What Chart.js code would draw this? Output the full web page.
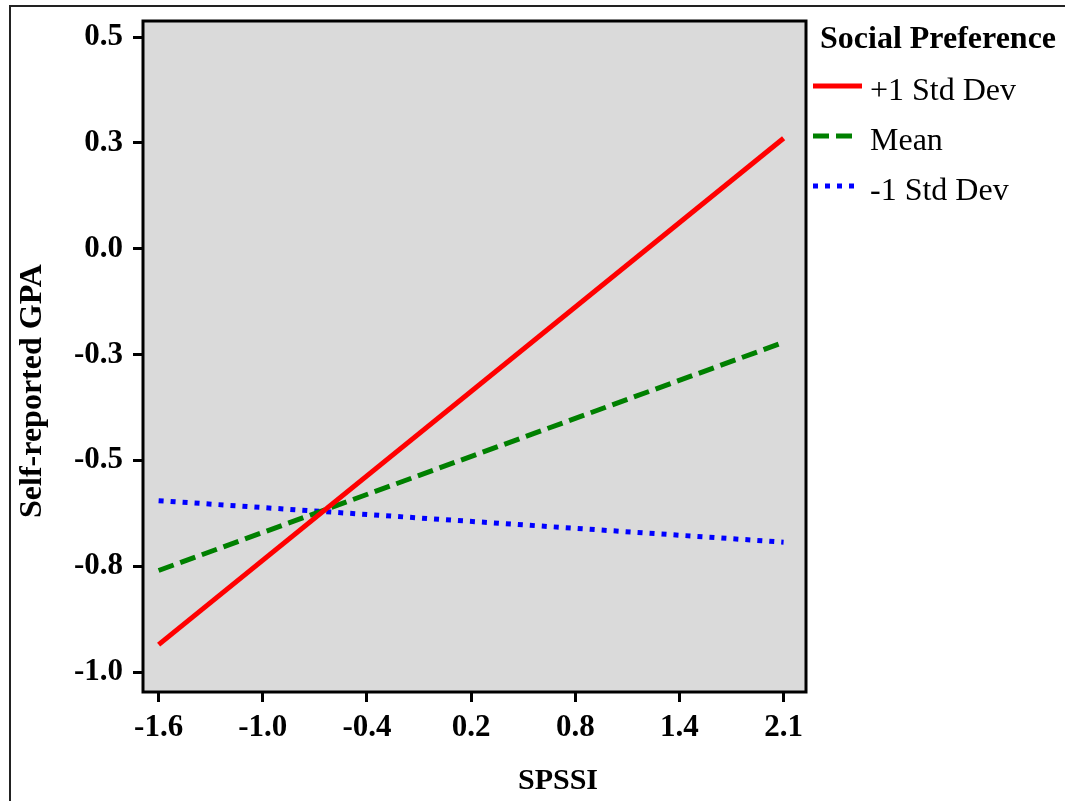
<!DOCTYPE html>
<html>
<head>
<meta charset="utf-8">
<script src="https://cdn.jsdelivr.net/npm/chart.js@4/dist/chart.umd.min.js"></script>
<style>
  body { margin:0; background:#fff; }
  #wrap { position:relative; width:1065px; height:801px; overflow:hidden; }
</style>
</head>
<body>
<div id="wrap"><canvas id="myChart" width="1065" height="801"></canvas></div>
<script>
// values
var spssi=[-1.6, 2.0];
var plusOneSD=[-0.935, 0.261];
var meanSP=[-0.760, -0.221];
var minusOneSD=[-0.595, -0.693];
var seriesNames=['+1 Std Dev','Mean','-1 Std Dev'];

var xTickValues=[-1.6,-1.0,-0.4,0.2,0.8,1.4,2.0];
var xTickLabels=['-1.6','-1.0','-0.4','0.2','0.8','1.4','2.1'];
var yTickValues=[-1.0,-0.75,-0.5,-0.25,0.0,0.25,0.5];
var yTickLabels=['-1.0','-0.8','-0.5','-0.3','0.0','0.3','0.5'];

var serif="'Liberation Serif','Times New Roman',serif";

function points(ys) {
    var out=[];
    for(let i=0;i<spssi.length;i++) out.push({x:spssi[i],y:ys[i]});
    return out;
}

// frame, gray plot background, plot box, axis titles and legend
var decor={
    id:'decor',
    beforeDraw:function(chart) {
        var c=chart.ctx, a=chart.chartArea;
        c.save();
        c.fillStyle='#dadada';
        c.fillRect(a.left,a.top,a.right-a.left,a.bottom-a.top);
        c.strokeStyle='#222';
        c.lineWidth=2;
        c.beginPath();
        c.moveTo(10,801); c.lineTo(10,6); c.lineTo(1065,6);
        c.stroke();
        c.restore();
    },
    afterDraw:function(chart) {
        var c=chart.ctx, a=chart.chartArea;
        c.save();
        c.strokeStyle='#000';
        c.lineWidth=3;
        c.strokeRect(a.left,a.top,a.right-a.left,a.bottom-a.top);

        c.fillStyle='#000';
        c.textAlign='center';
        c.textBaseline='middle';
        c.font='bold 30px '+serif;
        c.fillText('SPSSI',558,781);
        c.save();
        c.translate(33,391);
        c.rotate(-Math.PI/2);
        c.font='bold 32px '+serif;
        c.fillText('Self-reported GPA',0,0);
        c.restore();

        // legend
        c.textAlign='left';
        c.font='bold 32px '+serif;
        c.fillText('Social Preference',820,40);
        c.font='32px '+serif;
        var ds=chart.data.datasets;
        for(let i=0;i<ds.length;i++) {
            var ly=86+i*50;
            c.strokeStyle=ds[i].borderColor;
            c.lineWidth=ds[i].borderWidth;
            c.setLineDash(ds[i].borderDash||[]);
            c.beginPath();
            c.moveTo(813,ly);
            c.lineTo(i==0?862:855,ly);
            c.stroke();
            c.setLineDash([]);
            c.fillText(ds[i].label,870,ly+6);
        }
        c.restore();
    }
};

var ctx=document.querySelector('#myChart').getContext('2d');
var myChart=new Chart(ctx,{
    type:'line',
    data:{
        datasets:[{
            label:seriesNames[0],
            data:points(plusOneSD),
            borderColor:'#ff0000',
            borderWidth:5,
            pointRadius:0
        },{
            label:seriesNames[1],
            data:points(meanSP),
            borderColor:'#008000',
            borderWidth:5,
            borderDash:[16,7],
            pointRadius:0
        },{
            label:seriesNames[2],
            data:points(minusOneSD),
            borderColor:'#0000ff',
            borderWidth:5,
            borderDash:[5,7],
            pointRadius:0
        }]
    },
    options:{
        responsive:false,
        animation:false,
        layout:{padding:{top:21,right:259,left:0,bottom:0}},
        plugins:{legend:{display:false},tooltip:{enabled:false}},
        scales:{
            x:{
                type:'linear',
                min:-1.69,
                max:2.129,
                afterBuildTicks:function(s) { s.ticks=xTickValues.map(v=>({value:v})); },
                afterFit:function(s) { s.height=109; s.paddingLeft=0; s.paddingRight=0; },
                ticks:{
                    autoSkip:false,
                    maxRotation:0,
                    padding:7,
                    color:'#000',
                    font:{family:serif,size:31,weight:'bold'},
                    callback:function(v,i) { return xTickLabels[i]; }
                },
                grid:{drawOnChartArea:false,drawTicks:true,tickLength:10,tickWidth:3,tickColor:'#000'},
                border:{display:false}
            },
            y:{
                type:'linear',
                min:-1.047,
                max:0.538,
                afterBuildTicks:function(s) { s.ticks=yTickValues.map(v=>({value:v})); },
                afterFit:function(s) { s.width=143; s.paddingTop=0; s.paddingBottom=0; },
                ticks:{
                    autoSkip:false,
                    padding:10,
                    color:'#000',
                    font:{family:serif,size:31,weight:'bold'},
                    callback:function(v,i) { return yTickLabels[i]; }
                },
                grid:{drawOnChartArea:false,drawTicks:true,tickLength:10,tickWidth:3,tickColor:'#000'},
                border:{display:false}
            }
        }
    },
    plugins:[decor]
});
</script>
</body>
</html>
